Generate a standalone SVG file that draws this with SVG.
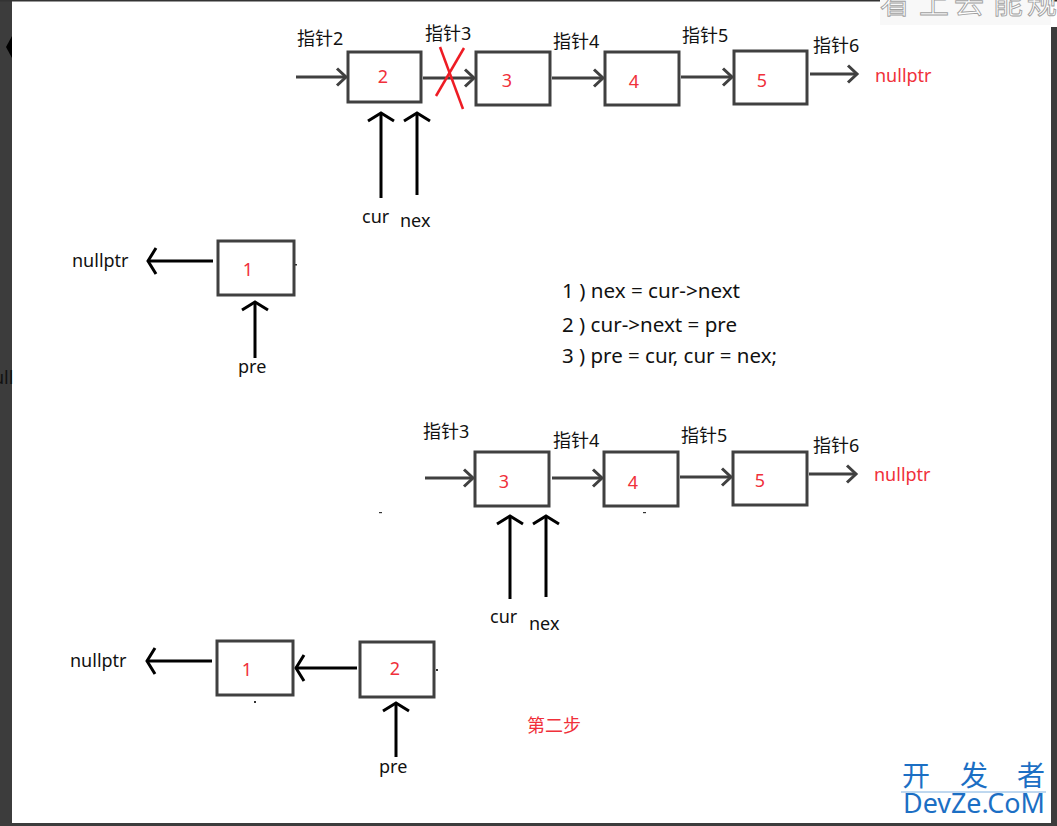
<svg xmlns="http://www.w3.org/2000/svg" width="1057" height="826" viewBox="0 0 1057 826">
<style>
.box{fill:#fff;stroke:#404040;stroke-width:3}
.gl{stroke:#404040;stroke-width:3;fill:none}
.bl{stroke:#000;stroke-width:3;fill:none}
.lab{font-family:"Noto Sans","Noto Sans CJK SC",sans-serif;font-size:18px;fill:#111}
.num{font-family:"Noto Sans",sans-serif;font-size:18px;fill:#f0303a;text-anchor:middle}
.red{font-family:"Noto Sans","Noto Sans CJK SC",sans-serif;font-size:18px;fill:#f0303a}
.code{font-family:"Noto Sans",sans-serif;font-size:19px;fill:#111}
</style>
<defs>
<marker id="ga" markerUnits="userSpaceOnUse" markerWidth="24" markerHeight="24" viewBox="-12 -12 24 24" refX="0" refY="0" orient="auto" overflow="visible">
<path d="M-9,-8.5 L0,0 L-9,8.5" fill="none" stroke="#404040" stroke-width="3"/>
</marker>
<marker id="ba" markerUnits="userSpaceOnUse" markerWidth="30" markerHeight="30" viewBox="-15 -15 30 30" refX="0" refY="0" orient="auto" overflow="visible">
<path d="M-8,-13 L0,0 L-8,13" fill="none" stroke="#000" stroke-width="3"/>
</marker>
</defs>
<rect width="1057" height="826" fill="#fff"/>
<!-- window frame -->
<rect x="0" y="0" width="12" height="826" fill="#3c3c3c"/>
<rect x="0" y="0" width="1057" height="1.5" fill="#333"/>
<rect x="1051" y="27" width="6" height="799" fill="#3c3c3c"/>
<rect x="0" y="823" width="1057" height="3" fill="#3c3c3c"/>
<polygon points="12,36 6,47 12,58" fill="#000"/>
<text x="-7" y="384" font-family="Noto Sans,sans-serif" font-size="18" fill="#111">ull</text>
<rect x="880" y="0" width="171" height="25" fill="#f8f8f8"/>
<g font-family="Noto Sans CJK SC,sans-serif" font-size="30" fill="#fff" stroke="#a0a0a0" stroke-width="0.9">
<text x="880" y="13">看</text><text x="919" y="13">上</text><text x="954" y="13">去</text><text x="993" y="13">能</text><text x="1027" y="13">规</text>
</g>

<g id="connectors">
<!-- top row -->
<line class="gl" x1="296" y1="77" x2="346" y2="77" marker-end="url(#ga)"/>
<line class="gl" x1="423" y1="78" x2="474" y2="78" marker-end="url(#ga)"/>
<line class="gl" x1="552" y1="78" x2="603" y2="78" marker-end="url(#ga)"/>
<line class="gl" x1="681" y1="77" x2="732" y2="77" marker-end="url(#ga)"/>
<line class="gl" x1="810" y1="74" x2="857" y2="74" marker-end="url(#ga)"/>
<line class="bl" x1="381" y1="198" x2="381" y2="113" marker-end="url(#ba)"/>
<line class="bl" x1="417" y1="195" x2="417" y2="113" marker-end="url(#ba)"/>
<line class="bl" x1="213" y1="261" x2="148" y2="261" marker-end="url(#ba)"/>
<line class="bl" x1="255" y1="358" x2="255" y2="302" marker-end="url(#ba)"/>
<!-- red cross -->
<line x1="440" y1="47" x2="463" y2="109" stroke="#ee1c24" stroke-width="2.5"/>
<line x1="464" y1="48" x2="436" y2="96" stroke="#ee1c24" stroke-width="2.5"/>
<!-- second row -->
<line class="gl" x1="425" y1="478" x2="473" y2="478" marker-end="url(#ga)"/>
<line class="gl" x1="552" y1="478" x2="602" y2="478" marker-end="url(#ga)"/>
<line class="gl" x1="680" y1="477" x2="731" y2="477" marker-end="url(#ga)"/>
<line class="gl" x1="809" y1="474" x2="856" y2="474" marker-end="url(#ga)"/>
<line class="bl" x1="510" y1="599" x2="510" y2="516" marker-end="url(#ba)"/>
<line class="bl" x1="546" y1="597" x2="546" y2="516" marker-end="url(#ba)"/>
<line class="bl" x1="212" y1="661" x2="147" y2="661" marker-end="url(#ba)"/>
<line class="bl" x1="357" y1="668" x2="296" y2="668" marker-end="url(#ba)"/>
<line class="bl" x1="396" y1="757" x2="396" y2="703" marker-end="url(#ba)"/>
</g>

<g id="top-node2"><rect class="box" x="348" y="52" width="73" height="50"/><text class="num" x="383" y="83">2</text></g>
<g id="top-node3"><rect class="box" x="476" y="52" width="74" height="53"/><text class="num" x="507" y="87">3</text></g>
<g id="top-node4"><rect class="box" x="605" y="52" width="74" height="53"/><text class="num" x="634" y="88">4</text></g>
<g id="top-node5"><rect class="box" x="734" y="51" width="73" height="53"/><text class="num" x="762" y="87">5</text></g>
<g id="top-node1"><rect class="box" x="218" y="241" width="76" height="54"/><text class="num" x="248" y="276">1</text></g>

<g id="top-labels">
<text class="lab" x="297" y="45">指针2</text>
<text class="lab" x="425" y="40">指针3</text>
<text class="lab" x="553" y="48">指针4</text>
<text class="lab" x="682" y="42">指针5</text>
<text class="lab" x="813" y="52">指针6</text>
<text class="red" x="875" y="82">nullptr</text>
<text class="lab" x="362" y="223">cur</text>
<text class="lab" x="400" y="227">nex</text>
<text class="lab" x="72" y="267">nullptr</text>
<text class="lab" x="238" y="373">pre</text>
</g>

<g id="steps">
<text class="code" x="562" y="298" textLength="178" lengthAdjust="spacingAndGlyphs">1 ) nex = cur-&gt;next</text>
<text class="code" x="562" y="332" textLength="175" lengthAdjust="spacingAndGlyphs">2 ) cur-&gt;next = pre</text>
<text class="code" x="562" y="363" textLength="215" lengthAdjust="spacingAndGlyphs">3 ) pre = cur, cur = nex;</text>
</g>

<g id="bot-node3"><rect class="box" x="475" y="452" width="74" height="54"/><text class="num" x="504" y="488">3</text></g>
<g id="bot-node4"><rect class="box" x="604" y="452" width="74" height="54"/><text class="num" x="633" y="489">4</text></g>
<g id="bot-node5"><rect class="box" x="733" y="452" width="74" height="53"/><text class="num" x="760" y="487">5</text></g>
<g id="bot-node1"><rect class="box" x="217" y="641" width="76" height="54"/><text class="num" x="247" y="676">1</text></g>
<g id="bot-node2"><rect class="box" x="360" y="642" width="74" height="55"/><text class="num" x="395" y="675">2</text></g>

<g id="bot-labels">
<text class="lab" x="423" y="438">指针3</text>
<text class="lab" x="553" y="447">指针4</text>
<text class="lab" x="681" y="442">指针5</text>
<text class="lab" x="813" y="452">指针6</text>
<text class="red" x="874" y="481">nullptr</text>
<text class="lab" x="490" y="623">cur</text>
<text class="lab" x="529" y="630">nex</text>
<text class="lab" x="70" y="667">nullptr</text>
<text class="lab" x="379" y="773">pre</text>
<text class="red" x="527" y="732">第二步</text>
</g>

<g id="specks" fill="#333">
<rect x="295" y="264" width="2" height="1.5"/>
<rect x="436" y="669" width="2" height="2"/>
<rect x="254" y="701" width="2" height="2"/>
<rect x="379" y="512" width="3" height="1.2"/>
<rect x="643" y="512" width="3" height="1.2"/>
</g>

<g id="watermark" fill="#1c6fc4">
<g font-family="Noto Sans CJK SC,sans-serif" font-size="28">
<text x="902" y="786">开</text><text x="960" y="786">发</text><text x="1017" y="786">者</text>
</g>
<line x1="901" y1="792" x2="1046" y2="792" stroke="#7fb0e0" stroke-width="1"/>
<text x="903" y="813" font-family="Noto Sans,sans-serif" font-size="28" textLength="142" lengthAdjust="spacingAndGlyphs">DevZe.CoM</text>
</g>
</svg>
